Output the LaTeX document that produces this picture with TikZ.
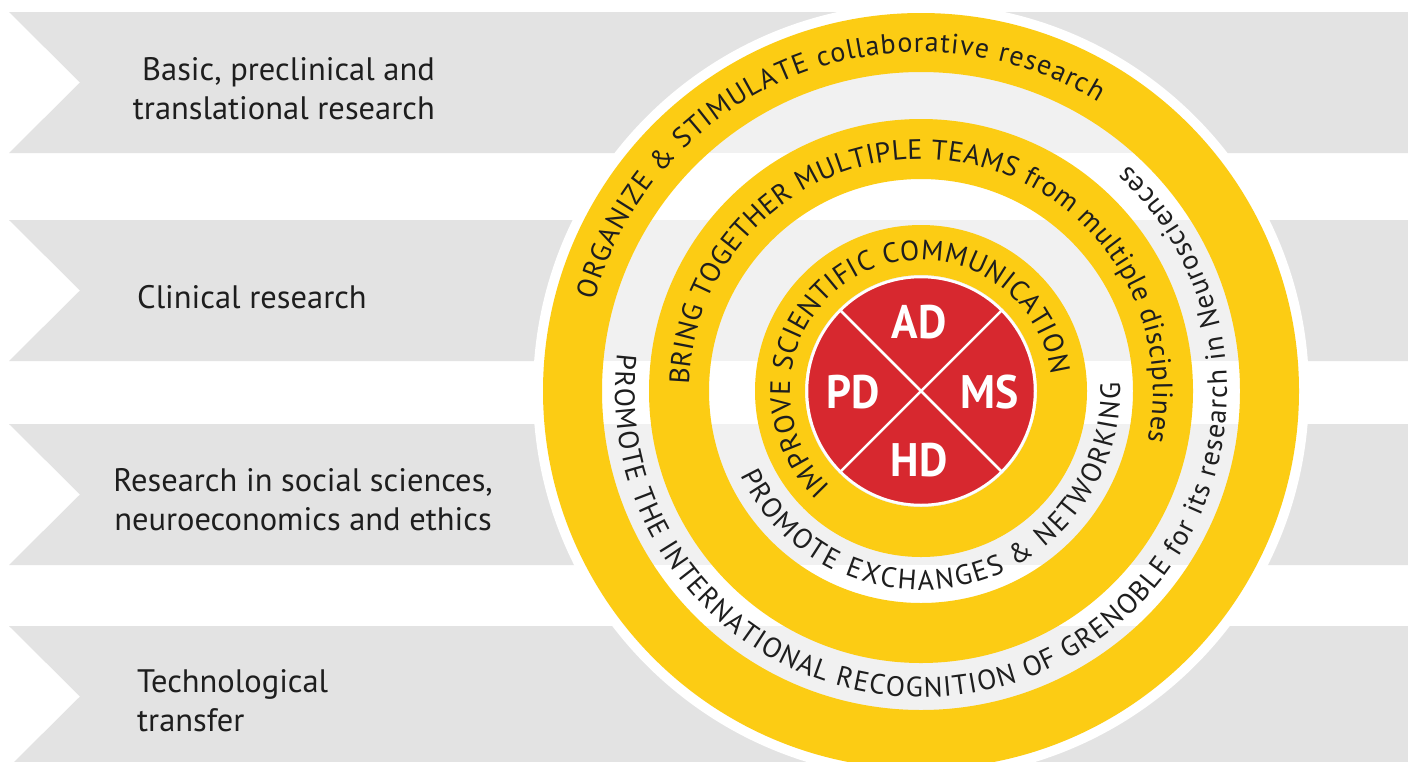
\documentclass[tikz,border=0pt]{standalone}
\usepackage{fontspec}
\setmainfont{PT Sans}
\newfontfamily\ringfont{PT Sans}
\usetikzlibrary{decorations.text}
\definecolor{bandgray}{HTML}{E3E3E3}
\definecolor{stripegray}{HTML}{F1F1F1}
\definecolor{ringyellow}{HTML}{FCCC14}
\definecolor{corered}{HTML}{D7282F}
\definecolor{inktext}{HTML}{1E1E1E}
\newcommand{\rsz}{\fontsize{28}{32}\selectfont}
\tikzset{
  bandlabel/.style={font=\fontsize{32.5}{39}\selectfont, text=inktext, inner sep=0pt},
  corelabel/.style={font=\bfseries\fontsize{47}{50}\selectfont, text=white, inner sep=0pt},
  ringtext/.style={decorate, decoration={text along path, text align=fit to path, text color=inktext, raise=0pt}},
  yring/.style={fill=ringyellow, even odd rule},
  coreline/.style={draw=white, line width=2.5pt},
}
\begin{document}
\begin{tikzpicture}[x=1pt,y=1pt]
\useasboundingbox (0,0) rectangle (1408,-761);
\fill[white] (0,0) rectangle (1408,-761);
% gray bands
\foreach \t/\b in {12/153, 220/361, 424/565, 626/767} {
  \fill[bandgray] (9,-\t) -- (1408,-\t) -- (1408,-\b) -- (9,-\b) -- (80,{-(\t+\b)/2}) -- cycle;
}
% band labels
\node[bandlabel, anchor=east, align=right] (lab1) at (435,-89) {Basic, preclinical and\\translational research};
\node[bandlabel, anchor=west] (lab2) at (137,-297) {Clinical research};
\node[bandlabel, align=center] (lab3) at (303,-500) {Research in social sciences,\\neuroeconomics and ethics};
\node[bandlabel, anchor=west, align=left] (lab4) at (137,-701) {Technological\\transfer};
% circle
\coordinate (C) at (921,-391);
\fill[white] (C) circle[radius=388pt];
\begin{scope}
  \clip (C) circle[radius=320pt];
  \foreach \t/\b in {12/153, 220/361, 424/565, 626/767} {
    \fill[stripegray] (0,-\t) rectangle (1408,-\b);
  }
\end{scope}
\fill[yring] (C) circle[radius=378pt] (C) circle[radius=319pt];
\fill[yring] (C) circle[radius=272pt] (C) circle[radius=212pt];
\fill[yring] (C) circle[radius=166pt] (C) circle[radius=116pt];
% red core
\node[circle, minimum size=228pt, inner sep=0pt, fill=corered, draw=white, line width=2.5pt] (core) at (C) {};
\draw[coreline] (core.45) -- (core.225);
\draw[coreline] (core.135) -- (core.315);
\node[corelabel] (ad) at (919,-322) {\scalebox{0.93}[1]{AD}};
\node[corelabel] (pd) at (853,-392) {\scalebox{0.93}[1]{PD}};
\node[corelabel] (ms) at (990,-392) {\scalebox{0.93}[1]{MS}};
\node[corelabel] (hd) at (919,-460) {\scalebox{0.93}[1]{HD}};
% ring texts
\path[ringtext, decoration={text={|\ringfont\rsz|ORGANIZE {\&} STIMULATE collaborative research}}]
  (C) ++(164.5:339pt) arc[start angle=164.5, end angle=58.5, radius=339pt];
\path[ringtext, decoration={text={|\ringfont\rsz|PROMOTE THE INTERNATIONAL RECOGNITION OF GRENOBLE for its research in Neurosciences}}]
  (C) ++(173:306pt) arc[start angle=173, end angle=407.5, radius=306pt];
\path[ringtext, decoration={text={|\ringfont\rsz|BRING TOGETHER MULTIPLE TEAMS from multiple disciplines}}]
  (C) ++(178.5:232pt) arc[start angle=178.5, end angle=-12.5, radius=232pt];
\path[ringtext, decoration={text={|\ringfont\rsz|PROMOTE EXCHANGES {\&} NETWORKING}}]
  (C) ++(205:199pt) arc[start angle=205, end angle=362.5, radius=199pt];
\path[ringtext, decoration={text={|\ringfont\rsz|IMPROVE SCIENTIFIC COMMUNICATION}}]
  (C) ++(226.5:131pt) arc[start angle=226.5, end angle=7, radius=131pt];
\end{tikzpicture}
\end{document}
